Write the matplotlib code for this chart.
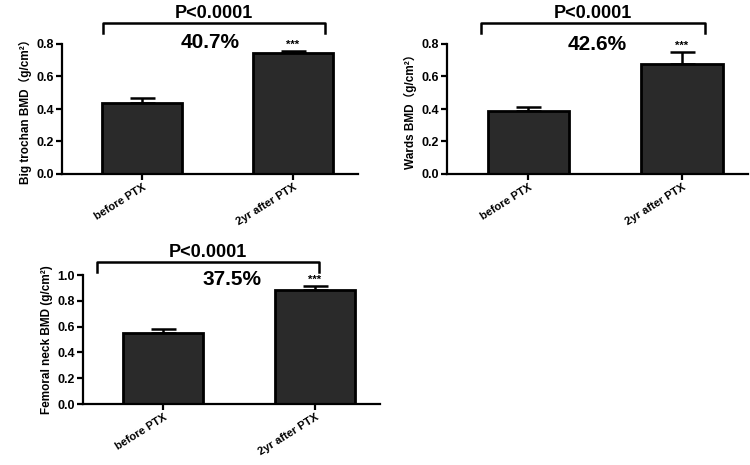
import numpy as np
import matplotlib
matplotlib.use("Agg")
import matplotlib.pyplot as plt

plt.rcParams['font.family'] = ['Liberation Sans', 'Noto Sans CJK SC', 'DejaVu Sans']
plt.rcParams['font.weight'] = 'bold'

groups = ["before PTX", "2yr after PTX"]

trochan_mean = [0.437, 0.745]
trochan_err = [0.031, 0.012]
wards_mean = [0.388, 0.677]
wards_err = [0.024, 0.073]
neck_mean = [0.550, 0.884]
neck_err = [0.030, 0.031]

ylabels = ["Big trochan BMD（g/cm²）", "Wards BMD（g/cm²）", "Femoral neck BMD (g/cm²)"]
pct_labels = ["40.7%", "42.6%", "37.5%"]
p_label = "P<0.0001"

W, H = 750, 465
fig = plt.figure(figsize=(7.5, 4.65), dpi=100)


def px_axes(left, base_y, width, height):
    # left/width in px, base_y = pixel row of y=0 baseline, height in px
    return fig.add_axes([left / W, (H - base_y) / H, width / W, height / H])


def panel(ax, means, errs, ylabel, pct, ymax, yticks, br, br_top, br_bot, pct_y):
    x = np.arange(len(groups))
    ax.bar(x, means, width=0.53, color="#2a2a2a", edgecolor="black", linewidth=2, zorder=2)
    ax.errorbar(x, means, yerr=[np.zeros(len(errs)), errs], fmt="none", ecolor="black",
                elinewidth=1.8, capsize=9, capthick=1.8, zorder=1)
    ax.set_xlim(-0.53, 1.43)
    ax.set_ylim(0, ymax)
    ax.set_yticks(yticks)
    ax.set_yticklabels([f"{v:.1f}" for v in yticks], fontsize=9, fontweight="bold")
    ax.set_xticks(x)
    ax.set_xticklabels(groups, rotation=32, ha="right", rotation_mode="anchor",
                       fontsize=8, fontweight="bold")
    ax.set_ylabel(ylabel, fontsize=8.5, fontweight="bold", labelpad=3)
    for s in ["top", "right"]:
        ax.spines[s].set_visible(False)
    for s in ["left", "bottom"]:
        ax.spines[s].set_linewidth(1.6)
    ax.tick_params(width=1.6, length=4, pad=2)
    # bracket
    ax.plot([br[0], br[0], br[1], br[1]], [br_bot, br_top, br_top, br_bot], color="black",
            lw=1.8, clip_on=False)
    ax.annotate(p_label, ((br[0] + br[1]) / 2, br_top), xytext=(0, 1),
                textcoords="offset pixels", ha="center", va="bottom",
                fontsize=13, fontweight="bold", annotation_clip=False)
    ax.text(0.45, pct_y, pct, ha="center", va="center", fontsize=15, fontweight="bold",
            clip_on=False)
    ax.text(1, means[1] + errs[1] + 0.01 * ymax / 0.8, "***", ha="center", va="bottom",
            fontsize=8, fontweight="bold")


ax1 = px_axes(62, 174, 296, 130)
panel(ax1, trochan_mean, trochan_err, ylabels[0], pct_labels[0], 0.8,
      [0.0, 0.2, 0.4, 0.6, 0.8], (-0.26, 1.21), 0.93, 0.868, 0.81)

ax2 = px_axes(447, 174, 301, 130)
panel(ax2, wards_mean, wards_err, ylabels[1], pct_labels[1], 0.8,
      [0.0, 0.2, 0.4, 0.6, 0.8], (-0.31, 1.15), 0.93, 0.868, 0.80)

ax3 = px_axes(83, 404, 297, 129)
panel(ax3, neck_mean, neck_err, ylabels[2], pct_labels[2], 1.0,
      [0.0, 0.2, 0.4, 0.6, 0.8, 1.0], (-0.44, 1.03), 1.10, 1.023, 0.965)

fig.savefig("out.png", dpi=100, facecolor="white")
